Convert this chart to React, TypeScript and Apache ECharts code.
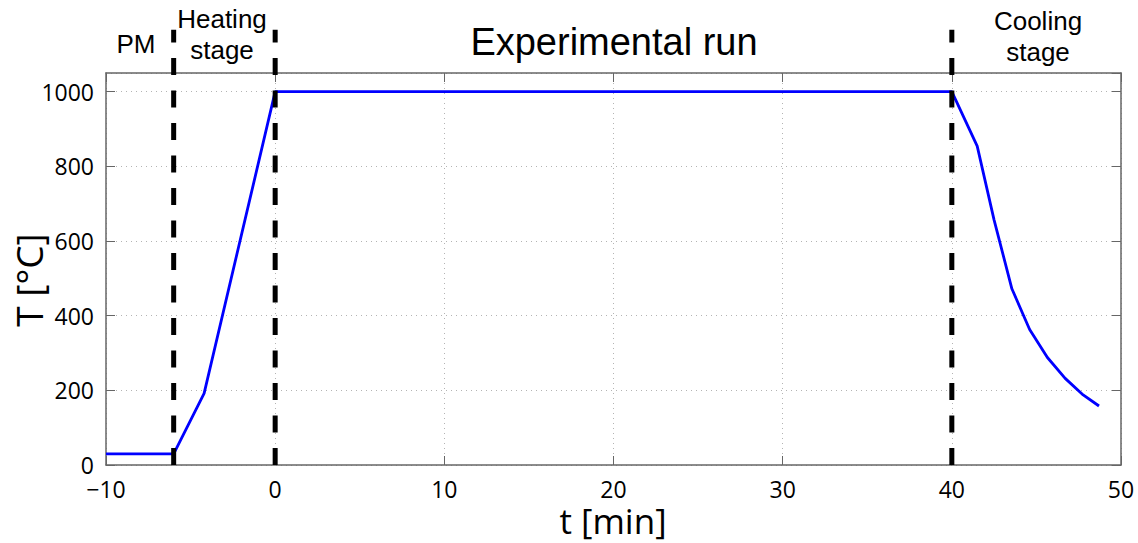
import React, { useEffect, useRef } from "react";
import * as echarts from "echarts";

// Data
const timeMin = [-10, -6, -4.2, 0, 40, 41.5, 42.5, 43.55, 44.6, 45.65, 46.7, 47.7, 48.7];
const tempC = [30, 30, 192, 1000, 1000, 854, 656, 472, 363, 288, 232, 190, 158];
const stageBoundaries = [-6, 0, 40];
const boundaryRange = [0, 1166];
const xRange = [-10, 50];
const yRange = [0, 1050];
const xInterval = 10;
const yInterval = 200;
const xTitle = "t [min]";
const yTitle = "T [°C]";
const stageTexts = ["PM", "Heating", "stage", "Experimental run", "Cooling", "stage"];

export default function App() {
  const ref = useRef<HTMLDivElement>(null);
  useEffect(() => {
    if (!ref.current) return;
    const chart = echarts.init(ref.current, null, { renderer: "svg" });
    const axisColor = "#666";
    const labelFont = "'Open Sans', sans-serif";
    const titleFont = "'Liberation Sans', Arial, sans-serif";
    const grid = {
      left: 106,
      right: 17,
      top: 73,
      bottom: 78,
      containLabel: false,
      outerBoundsMode: "none",
    };
    const fmtX = (v: number) => (v < 0 ? "\u2212" + Math.abs(v) : String(v));
    const fmtY = (v: number) => String(v);

    const mainLine = timeMin.map((t, i) => [t, tempC[i]]);
    const boundarySeries = stageBoundaries.map((b) => ({
      type: "line",
      data: boundaryRange.map((y) => [b, y]),
      clip: false,
      symbol: "none",
      z: 5,
      lineStyle: { color: "#000", width: 5, type: [17, 15.5], cap: "butt" },
    }));

    const tx = (
      text: string,
      x: number,
      y: number,
      size: number,
      font: string = titleFont,
      rotation = 0
    ) => ({
      type: "text",
      x,
      y,
      rotation,
      z: 10,
      style: {
        text,
        fill: "#000",
        font: `${size}px ${font}`,
        lineHeight: size,
        textAlign: "center",
        textVerticalAlign: "middle",
      },
    });

    const frameAxis = {
      type: "value",
      axisLine: { show: true, onZero: false, lineStyle: { color: axisColor, width: 1.5 } },
      axisTick: { show: true, inside: true, length: 9, lineStyle: { color: axisColor } },
      axisLabel: { show: false },
      splitLine: { show: false },
    };

    chart.setOption({
      animation: false,
      backgroundColor: "#fff",
      grid,
      xAxis: [
        {
          type: "value",
          min: xRange[0],
          max: xRange[1],
          interval: xInterval,
          axisLine: { show: true, onZero: false, lineStyle: { color: axisColor, width: 1.5 } },
          axisTick: { show: true, inside: true, length: 9, lineStyle: { color: axisColor } },
          axisLabel: {
            color: "#000",
            fontSize: 23,
            lineHeight: 23,
            fontFamily: labelFont,
            margin: 12,
            formatter: fmtX,
          },
          splitLine: { show: true, lineStyle: { color: "#b4b4b4", type: [1, 4], width: 1 } },
        },
        {
          ...frameAxis,
          position: "top",
          min: xRange[0],
          max: xRange[1],
          interval: xInterval,
        },
      ],
      yAxis: [
        {
          type: "value",
          min: yRange[0],
          max: yRange[1],
          interval: yInterval,
          axisLine: { show: true, onZero: false, lineStyle: { color: axisColor, width: 1.5 } },
          axisTick: { show: true, inside: true, length: 9, lineStyle: { color: axisColor } },
          axisLabel: {
            color: "#000",
            fontSize: 23,
            lineHeight: 23,
            fontFamily: labelFont,
            margin: 12,
            showMaxLabel: false,
            formatter: fmtY,
          },
          splitLine: { show: true, lineStyle: { color: "#b4b4b4", type: [1, 4], width: 1 } },
        },
        {
          ...frameAxis,
          position: "right",
          min: yRange[0],
          max: yRange[1],
          interval: yInterval,
        },
      ],
      series: [
        {
          type: "line",
          data: mainLine,
          symbol: "none",
          z: 3,
          lineStyle: { color: "#0000ff", width: 2.8 },
        },
        ...boundarySeries,
      ],
      graphic: [
        tx(stageTexts[0], 136, 44, 26),
        tx(stageTexts[1], 222, 19, 26),
        tx(stageTexts[2], 222, 50, 26),
        tx(stageTexts[3], 614, 42, 38),
        tx(stageTexts[4], 1038, 21, 26),
        tx(stageTexts[5], 1038, 52, 26),
        tx(xTitle, 613, 520, 35, labelFont),
        tx(yTitle, 28, 280, 37, labelFont, Math.PI / 2),
      ],
    });
    return () => chart.dispose();
  }, []);
  return (
    <div
      ref={ref}
      style={{ position: "absolute", left: 0, top: 0, width: 1138, height: 543 }}
    />
  );
}
